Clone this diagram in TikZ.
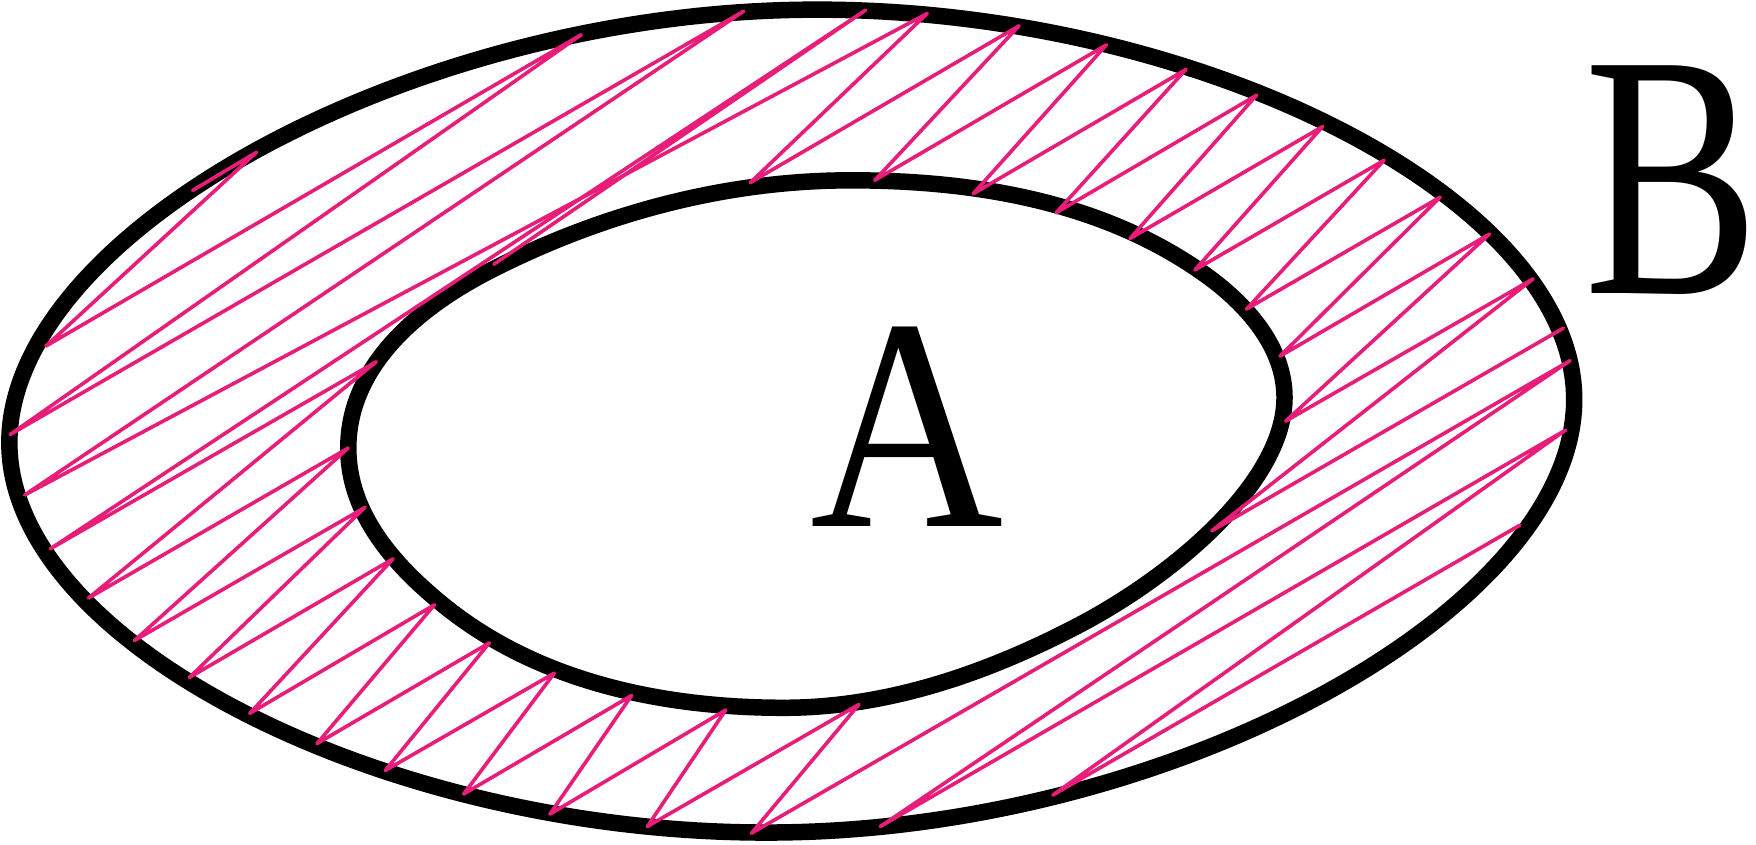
\documentclass[tikz,border=0pt]{standalone}
\usepackage{fontspec}
\setmainfont{Liberation Serif}
\definecolor{hatchpink}{HTML}{E81C79}

\begin{document}
\begin{tikzpicture}[x=0.112mm, y=-0.112mm,
    rim/.style={line width=1.65mm, line join=round},
    hatch/.style={hatchpink, line width=0.36mm, line cap=round, line join=round},
    setname/.style={inner sep=0pt, anchor=base}]
  \useasboundingbox (0,0) rectangle (1568,754);

  % Outer set B
  \begin{scope}[shift={(707,376)}, rotate=2]
    \draw[rim] (699,0) .. controls (699,184) and (350,367) .. (0,367)
      .. controls (-350,367) and (-699,184) .. (-699,0)
      .. controls (-699,-184) and (-350,-367) .. (0,-367)
      .. controls (350,-367) and (699,-184) .. (699,0) -- cycle;
  \end{scope}

  % Inner set A
  \draw[rim] (311,400) .. controls (311,326) and (375,273) .. (441,240)
    .. controls (540,190) and (649,161) .. (760,161)
    .. controls (873,161) and (989,181) .. (1080,248)
    .. controls (1115,274) and (1147,311) .. (1147,355)
    .. controls (1147,430) and (1049,514) .. (960,560)
    .. controls (879,602) and (791,632) .. (700,632)
    .. controls (592,632) and (482,609) .. (398,542)
    .. controls (352,505) and (311,459) .. (311,400) -- cycle;

  % Hatching, top left and right side
  \draw[hatch] (172,170) -- (229,136) -- (41,309) -- (519,31) -- (9,388)
    -- (664,10) -- (22,442) -- (828,12) -- (670,163) -- (910,23)
    -- (781,161) -- (988,40) -- (869,173) -- (1059,62) -- (943,190)
    -- (1122,85) -- (1009,213) -- (1181,113) -- (1067,241) -- (1236,143)
    -- (1113,276) -- (1286,176) -- (1143,318) -- (1330,209) -- (1148,376)
    -- (1369,249) -- (1082,474) -- (1396,293);

  % Hatching, left, bottom and lower right
  \draw[hatch] (441,236) -- (773,9) -- (45,490) -- (336,323) -- (79,534)
    -- (311,400) -- (120,572) -- (326,453) -- (169,605) -- (351,499)
    -- (223,637) -- (388,540) -- (283,664) -- (437,574) -- (344,688)
    -- (495,601) -- (414,709) -- (564,621) -- (491,727) -- (648,634)
    -- (578,738) -- (767,629) -- (671,744) -- (1402,322) -- (786,738)
    -- (1398,384) -- (940,710) -- (1357,469);

  % Set names
  \node[setname, font=\fontsize{86}{86}\selectfont, xscale=0.885] (nameA) at (810,470) {A};
  \node[setname, font=\fontsize{99}{99}\selectfont, xscale=0.754] (nameB) at (1493,262) {B};
\end{tikzpicture}
\end{document}
